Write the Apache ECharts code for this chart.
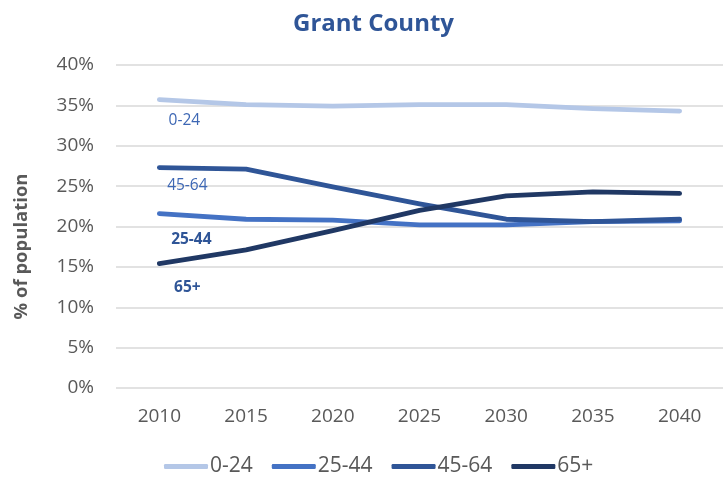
<!DOCTYPE html>
<html>
<head>
<meta charset="utf-8">
<script src="https://cdn.jsdelivr.net/npm/echarts@6/dist/echarts.min.js"></script>
<style>
  html, body { margin: 0; padding: 0; background: #fff; }
  #chart { width: 723px; height: 477px; }
</style>
</head>
<body>
<div id="chart"></div>
<script>
// Population share by age group, Grant County
const years = ['2010', '2015', '2020', '2025', '2030', '2035', '2040'];
const age0to24 = [35.7, 35.1, 34.9, 35.1, 35.1, 34.6, 34.3];
const age25to44 = [21.6, 20.9, 20.8, 20.2, 20.2, 20.6, 20.7];
const age45to64 = [27.3, 27.1, 24.9, 22.8, 20.9, 20.6, 20.9];
const age65plus = [15.4, 17.1, 19.5, 22.0, 23.8, 24.3, 24.1];

const FONT = '"Open Sans", "Liberation Sans", sans-serif';

// Put an inline label beside the first point of a series
function withFirstLabel(values, name, offset, bold, color) {
  return values.map((v, i) => i === 0 ? {
    value: v,
    label: {
      show: true,
      formatter: name,
      position: 'inside',
      offset: offset,
      color: color,
      fontFamily: FONT,
      fontSize: 15.5,
      fontWeight: bold ? 'bold' : 'normal'
    }
  } : v);
}

function lineSeries(name, values, color, offset, bold, labelColor) {
  return {
    name: name,
    type: 'line',
    data: withFirstLabel(values, name, offset, bold, labelColor),
    symbol: 'circle',
    symbolSize: 0,
    showSymbol: true,
    lineStyle: { color: color, width: 4.8, cap: 'round', join: 'round' },
    itemStyle: { color: color },
    emphasis: { disabled: true },
    animation: false
  };
}

const chart = echarts.init(document.getElementById('chart'), null, { renderer: 'canvas' });
chart.setOption({
  backgroundColor: '#ffffff',
  title: {
    text: 'Grant County',
    left: 288,
    top: 7,
    textStyle: { color: '#2F5597', fontFamily: FONT, fontWeight: 'bold', fontSize: 24 }
  },
  grid: { left: 116, right: -10, top: 65, bottom: 89, containLabel: false },
  legend: {
    bottom: -5,
    left: 159,
    itemWidth: 44,
    itemHeight: 5,
    itemGap: 19,
    icon: 'roundRect',
    textStyle: { color: '#595959', fontFamily: FONT, fontSize: 21, padding: [0, 0, 0, -3] },
    data: ['0-24', '25-44', '45-64', '65+']
  },
  xAxis: {
    type: 'category',
    data: years,
    boundaryGap: true,
    axisLine: { show: false },
    axisTick: { show: false },
    axisLabel: { color: '#595959', fontFamily: FONT, fontSize: 19, margin: 19 }
  },
  yAxis: {
    type: 'value',
    min: 0,
    max: 40,
    interval: 5,
    name: '% of population',
    nameLocation: 'middle',
    nameGap: 85,
    nameRotate: 90,
    nameTextStyle: { color: '#595959', fontFamily: FONT, fontSize: 18.5, fontWeight: 'bold', padding: [0, 40, 0, 0] },
    axisLine: { show: false },
    axisTick: { show: false },
    splitLine: { lineStyle: { color: '#D9D9D9', width: 1.5 } },
    axisLabel: { color: '#595959', fontFamily: FONT, fontSize: 19, margin: 22, formatter: '{value}%' }
  },
  series: [
    lineSeries('0-24', age0to24, '#B4C7E7', [25, 21], false, '#3D67B4'),
    lineSeries('25-44', age25to44, '#4472C4', [32, 26], true, '#2F5597'),
    lineSeries('45-64', age45to64, '#2F5597', [28, 18], false, '#3D67B4'),
    lineSeries('65+', age65plus, '#203864', [28, 24], true, '#2F5597')
  ]
});
</script>
</body>
</html>
